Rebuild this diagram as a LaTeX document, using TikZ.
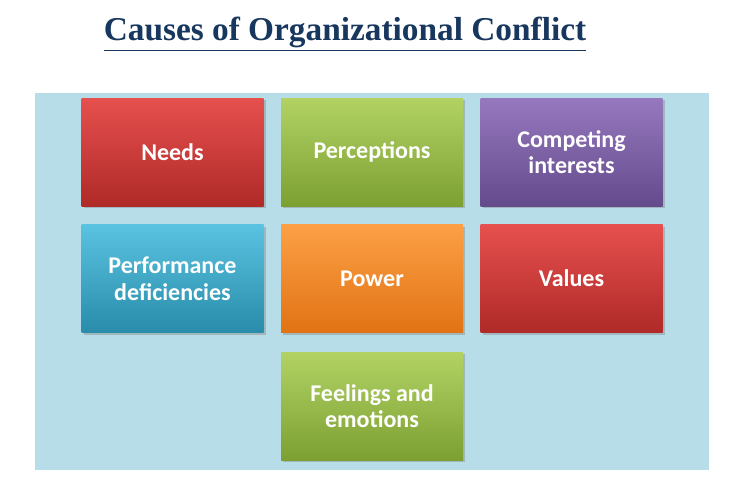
\documentclass[tikz,border=0pt]{standalone}
\usepackage{fontspec}
\setmainfont{Carlito}
\newfontfamily\titlefont{Liberation Serif}
\usetikzlibrary{shadows}
\definecolor{bgblue}{HTML}{B7DDE8}
\definecolor{navy}{HTML}{17375E}
\tikzset{
  cbox/.style={minimum width=136.5pt,minimum height=81pt,inner sep=2pt,
    align=center,text=white,font=\bfseries\fontsize{18}{20}\selectfont,
    drop shadow={shadow xshift=1.5pt,shadow yshift=-1.5pt,opacity=0.4}},
  cred/.style={cbox,top color=red!55!orange!30!white!0!red!70!white,bottom color=red!60!black!100!white,top color={rgb,255:red,230;green,80;blue,78},bottom color={rgb,255:red,175;green,42;blue,40}},
  cgreen/.style={cbox,top color={rgb,255:red,178;green,210;blue,100},bottom color={rgb,255:red,125;green,160;blue,50}},
  cpurple/.style={cbox,top color={rgb,255:red,150;green,120;blue,190},bottom color={rgb,255:red,100;green,75;blue,140}},
  cteal/.style={cbox,top color={rgb,255:red,90;green,195;blue,225},bottom color={rgb,255:red,40;green,140;blue,170}},
  corange/.style={cbox,top color={rgb,255:red,252;green,160;blue,70},bottom color={rgb,255:red,225;green,115;blue,20}},
}
\begin{document}
\begin{tikzpicture}[x=0.75pt,y=-0.75pt]
\useasboundingbox (0,0) rectangle (729,489);
\fill[white] (0,0) rectangle (729,489);
\fill[bgblue] (35,93) rectangle (709,470);
\node[text=navy,font=\titlefont\bfseries\fontsize{25}{28}\selectfont] (title) at (345,34) {\underline{Causes of Organizational Conflict}};
\node[cred] (needs) at (172.5,152) {Needs};
\node[cgreen] (perc) at (372,152) {Perceptions};
\node[cpurple] (comp) at (571.5,152) {Competing\\interests};
\node[cteal] (perf) at (172.5,278.5) {Performance\\deficiencies};
\node[corange] (power) at (372,278.5) {Power};
\node[cred] (values) at (571.5,278.5) {Values};
\node[cgreen] (feel) at (372,406) {Feelings and\\emotions};
\end{tikzpicture}
\end{document}
